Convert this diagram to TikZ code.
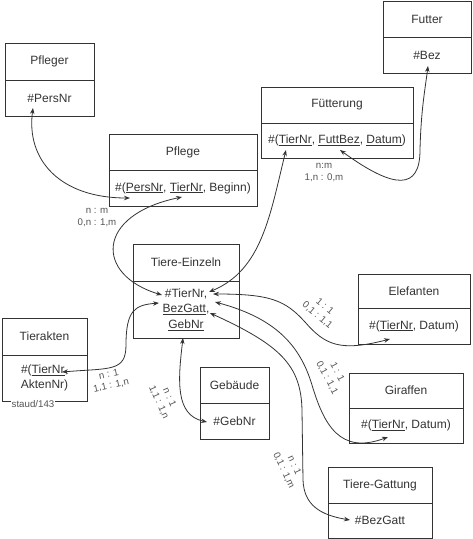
\documentclass[tikz,border=0pt]{standalone}
\usepackage{fontspec}
\setmainfont{Liberation Sans}
\usetikzlibrary{arrows.meta}
\definecolor{ink}{HTML}{333333}
\definecolor{lbl}{HTML}{555555}
\newcommand\erbox[8]{%
  \node[box, minimum width={#3-#2}, minimum height={#5-#4}] (#1) at ({(#2+#3)/2},{(#4+#5)/2}) {#7};
  \node[box, minimum width={#3-#2}, minimum height={#6-#5}] (#1-a) at ({(#2+#3)/2},{(#5+#6)/2}) {#8};}
\begin{document}
\begin{tikzpicture}[x=1pt,y=-1pt,
  box/.style={draw=ink, line width=0.9pt, inner sep=0pt, outer sep=0pt, text=ink,
    font=\fontsize{12}{15.5}\selectfont, align=center},
  card/.style={font=\fontsize{9.7}{11.5}\selectfont, text=lbl, align=center, inner sep=0pt},
  link/.style={draw=ink, line width=0.8pt,
    {Stealth[length=6pt,width=4.5pt]}-{Stealth[length=6pt,width=4.5pt]}}]
\useasboundingbox (0,0) rectangle (473,539);

\erbox{pfleger}{5}{94}{43}{80}{116}{Pfleger}{\#PersNr}
\erbox{futter}{383}{471}{1}{37}{73}{Futter}{\#Bez}
\erbox{fuett}{261}{413}{87}{123}{158}{Fütterung}{\#(\underline{TierNr}, \underline{FuttBez}, \underline{Datum})}
\erbox{pflege}{109}{257}{134}{170}{206}{Pflege}{\#(\underline{PersNr}, \underline{TierNr}, Beginn)}
\erbox{tiere}{133}{239}{244}{281}{338}{Tiere-Einzeln}{\#TierNr,\\\underline{BezGatt},\\\underline{GebNr}}
\erbox{akten}{2}{87}{318}{355}{401}{Tierakten}{\#(\underline{TierNr},\\AktenNr)}
\erbox{elef}{358}{470}{274}{308}{344}{Elefanten}{\#(\underline{TierNr}, Datum)}
\erbox{giraf}{349}{463}{373}{408}{443}{Giraffen}{\#(\underline{TierNr}, Datum)}
\erbox{geb}{200}{269}{367}{403}{439}{Gebäude}{\#GebNr}
\erbox{gatt}{328}{432}{467}{503}{538}{Tiere-Gattung}{\#BezGatt}

% endpoints
\coordinate (pflegerIn) at (33,108);
\coordinate (pflegeP) at (130,198);
\coordinate (pflegeT) at (182,197);
\coordinate (teL1) at (162,295);
\coordinate (teL2) at (159,303);
\coordinate (teR1) at (209,292);
\coordinate (teR2) at (213,294);
\coordinate (teR3) at (215,302);
\coordinate (teR4) at (210,313);
\coordinate (teB) at (183,338);
\coordinate (fuT) at (286,150);
\coordinate (fuF) at (340,150);
\coordinate (futIn) at (428,66);
\coordinate (elIn) at (390,339);
\coordinate (grIn) at (388,437);
\coordinate (gaIn) at (350,520);
\coordinate (gbIn) at (207,422);
\coordinate (akIn) at (62,372);

\draw[link] (pflegerIn) .. controls (26,160) and (60,198) .. (pflegeP);
\draw[link] (pflegeT) .. controls (95,215) and (95,275) .. (teL1);
\draw[link] (fuT) .. controls (270,215) and (262,270) .. (teR1);
\draw[link] (fuF) .. controls (395,190) and (420,190) .. (420,150)
  .. controls (421,110) and (425,90) .. (futIn);
\draw[link] (teR2) .. controls (270,294) and (285,300) .. (305,322)
  .. controls (325,345) and (340,352) .. (elIn);
\draw[link] (teR3) .. controls (275,318) and (300,345) .. (312,385)
  .. controls (324,425) and (340,455) .. (grIn);
\draw[link] (teR4) .. controls (280,345) and (301,365) .. (302,410)
  -- (303,480) .. controls (304,505) and (320,515) .. (gaIn);
\draw[link] (teB) .. controls (178,380) and (175,415) .. (gbIn);
\draw[link] (akIn) .. controls (110,368) and (126,372) .. (126,345)
  .. controls (126,310) and (135,305) .. (teL2);

% cardinalities
\node[card] (c1) at (97,217.5) {n : m\\0,n : 1,m};
\node[card] (c2) at (324,172.5) {n:m\\1,n : 0,m};
\node[card, rotate=12] (c3) at (110,380) {n : 1\\1,1 : 1,n};
\node[card, rotate=-40] (c4) at (321,311) {1 : 1\\0,1 : 1,1};
\node[card, rotate=-62] (c5) at (332,375) {1 : 1\\0,1 : 1,1};
\node[card, rotate=-66] (c6) at (164,400) {n : 1\\1,1 : 1,n};
\node[card, rotate=-65] (c7) at (289,468) {n : 1\\0,1 : 1,m};
\node[card, fill=white, inner xsep=1pt] (staud) at (33,404) {staud/143};
\end{tikzpicture}
\end{document}
